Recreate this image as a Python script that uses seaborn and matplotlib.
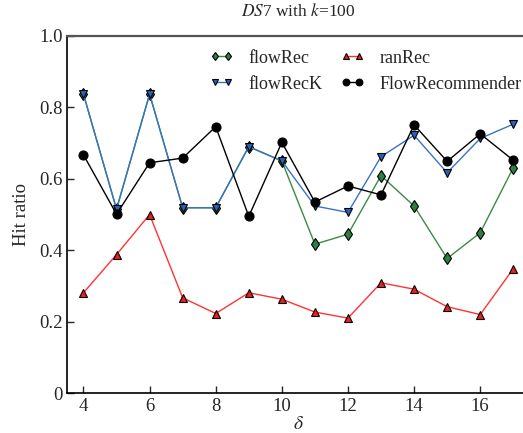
import numpy as np
import pandas as pd
import matplotlib
matplotlib.use("Agg")
import matplotlib.pyplot as plt
import seaborn as sns

# Hit ratio per delta
delta = [4, 5, 6, 7, 8, 9, 10, 11, 12, 13, 14, 15, 16, 17]
flow_rec = [0.837, 0.515, 0.837, 0.519, 0.519, 0.690, 0.650, 0.417, 0.445, 0.609, 0.524, 0.377, 0.449, 0.631]
flow_rec_k = [0.837, 0.515, 0.837, 0.519, 0.519, 0.690, 0.650, 0.524, 0.506, 0.662, 0.722, 0.617, 0.713, 0.753]
ran_rec = [0.281, 0.388, 0.500, 0.267, 0.223, 0.281, 0.263, 0.227, 0.210, 0.309, 0.291, 0.242, 0.220, 0.348]
flow_recommender = [0.667, 0.501, 0.645, 0.658, 0.746, 0.495, 0.702, 0.535, 0.580, 0.555, 0.751, 0.649, 0.726, 0.652]

y_ticks = [0, 0.2, 0.4, 0.6, 0.8, 1.0]
y_tick_labels = ["0", "0.2", "0.4", "0.6", "0.8", "1.0"]
x_ticks = [4, 6, 8, 10, 12, 14, 16]

sns.set_style("ticks")
plt.rcParams["font.family"] = ["Liberation Serif", "DejaVu Serif"]
plt.rcParams["mathtext.fontset"] = "stix"

fig = plt.figure(figsize=(5.23, 4.33), dpi=100)
ax = fig.add_axes([0.128, 0.092, 0.885, 0.825])

# name, values, line colour, marker, marker face
series = [
    ("flowRec", flow_rec, "#3a8a47", "d", "#2e8040"),
    ("ranRec", ran_rec, "#ff3333", "^", "#e82020"),
    ("flowRecK", flow_rec_k, "#3a72c4", "v", "#2a62b8"),
    ("FlowRecommender", flow_recommender, "black", "o", "black"),
]
for name, vals, color, marker, face in series:
    df = pd.DataFrame({"delta": delta, "hit": vals})
    sns.lineplot(data=df, x="delta", y="hit", ax=ax, color=color, marker=marker,
                 markersize=6.5 if marker == "o" else 6, markeredgecolor="black",
                 markeredgewidth=0.8, markerfacecolor=face,
                 linewidth=1.0, label=name)

ax.set_xlim(3.5, 17.5)
ax.set_ylim(0, 1.0)
ax.set_xticks(x_ticks)
ax.set_yticks(y_ticks)
ax.set_yticklabels(y_tick_labels)
ax.tick_params(direction="in", length=5, width=1, labelsize=13.5)
ax.tick_params(axis="y", pad=3)
for s in ["left", "bottom"]:
    ax.spines[s].set_linewidth(1.2)
    ax.spines[s].set_color("black")
ax.spines["top"].set_color("#555555")
ax.spines["top"].set_linewidth(1.6)
ax.spines["right"].set_visible(False)

ax.set_xlabel(r"$\delta$", fontsize=14, labelpad=1)
ax.set_ylabel("Hit ratio", fontsize=13.5, labelpad=7)
ax.set_title(r"$DS$7 with $k$=100", fontsize=12.5, pad=14)

handles, labels = ax.get_legend_handles_labels()
order = [0, 2, 1, 3]
leg = ax.legend([handles[i] for i in order], [labels[i] for i in order], ncol=2,
                frameon=False, numpoints=2, fontsize=13, loc="upper left",
                bbox_to_anchor=(0.309, 0.962), borderaxespad=0, borderpad=0,
                handlelength=1.3, columnspacing=1.0, handletextpad=0.85,
                labelspacing=0.5, markerscale=0.75)

fig.savefig("out.png", dpi=100)
